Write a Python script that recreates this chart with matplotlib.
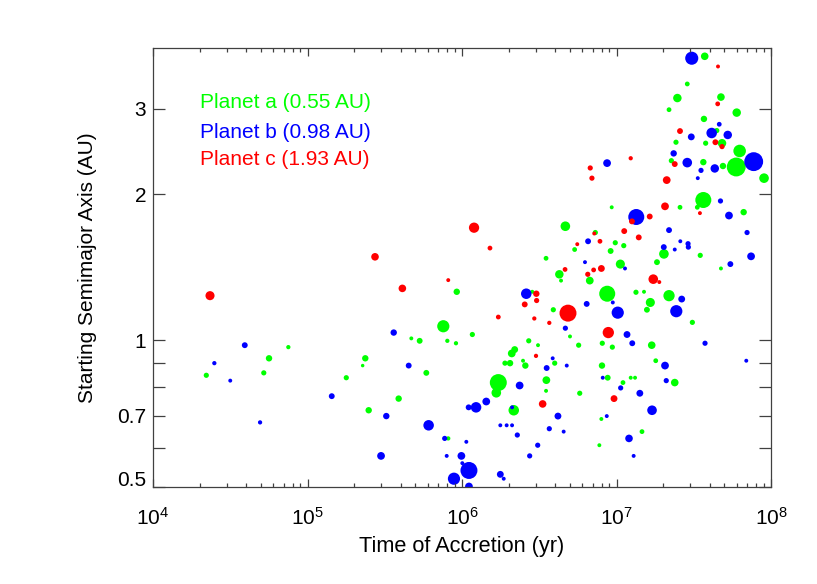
import numpy as np
import matplotlib
matplotlib.use("Agg")
import matplotlib.pyplot as plt
from matplotlib.ticker import LogLocator, FixedLocator, FixedFormatter, NullFormatter, LogFormatterSciNotation

plt.rcParams['font.family'] = ['Liberation Sans', 'DejaVu Sans']
plt.rcParams['mathtext.fontset'] = 'custom'
plt.rcParams['mathtext.rm'] = 'Liberation Sans'
plt.rcParams['mathtext.it'] = 'Liberation Sans:italic'
plt.rcParams['mathtext.bf'] = 'Liberation Sans:bold'

# ---------------- data (log10 time [yr], log10 starting a [AU], relative mass) ----------------
# Planet a (0.55 AU) - green
logt_a = [4.345, 4.717, 4.751, 4.876, 5.374, 5.357, 5.251, 5.396, 5.590, 5.769,
          5.726, 5.672, 5.879, 5.905, 5.961, 5.966, 6.067, 5.911, 6.669, 6.969,
          6.863, 6.729, 6.544, 6.992, 7.047, 6.962, 7.025, 6.630, 6.641, 6.827,
          6.455, 6.940, 7.126, 6.591, 6.699, 6.755, 6.908, 6.973, 6.432, 6.492,
          6.341, 6.322, 6.278, 6.311, 6.395, 6.410, 6.235, 6.222, 6.335, 6.546,
          6.544, 6.600, 6.906, 6.943, 7.042, 7.092, 7.120, 6.762, 6.902, 6.889,
          7.228, 7.254, 7.377, 7.165, 7.571, 7.458, 7.394, 7.676, 7.340, 7.778,
          7.566, 7.649, 7.385, 7.577, 7.683, 7.797, 7.355, 7.562, 7.689, 7.775,
          7.955, 7.562, 7.411, 7.523, 7.823, 7.307, 7.262, 7.542, 7.676, 7.178,
          7.340, 7.219, 7.197, 7.491]
loga_a = [-0.072, -0.067, -0.037, -0.014, -0.037, -0.052, -0.077, -0.144, -0.120, -0.067,
          -0.001, 0.004, 0.029, -0.001, -0.006, 0.100, 0.012, -0.202, 0.235, 0.274,
          0.222, 0.187, 0.169, 0.201, 0.195, 0.184, 0.157, 0.136, 0.123, 0.123,
          0.100, 0.096, 0.099, 0.063, 0.008, -0.010, -0.006, -0.014, -0.001, -0.010,
          -0.019, -0.027, -0.047, -0.047, -0.042, -0.052, -0.087, -0.108, -0.144, -0.082,
          -0.104, -0.047, -0.052, -0.077, -0.087, -0.077, -0.077, -0.109, -0.162, -0.216,
          -0.010, -0.042, -0.087, -0.188, 0.585, 0.528, 0.499, 0.501, 0.475, 0.469,
          0.456, 0.432, 0.408, 0.406, 0.406, 0.390, 0.370, 0.367, 0.359, 0.357,
          0.334, 0.289, 0.274, 0.274, 0.264, 0.178, 0.161, 0.175, 0.148, 0.100,
          0.092, 0.078, 0.063, 0.037]
mass_a = [4, 4, 8, 2, 8, 1, 4, 8, 8, 6,
          6, 1.5, 64, 2, 2, 8, 4, 2, 30, 1.5,
          4, 3, 3, 4, 4, 6, 25, 20, 1.5, 15,
          1.5, 150, 4, 4, 1.5, 4, 4, 4, 4, 1.5,
          10, 15, 4, 8, 1.5, 8, 180, 30, 40, 15,
          1.5, 4, 8, 6, 3, 1.5, 1.5, 4, 1.5, 1.5,
          14, 3, 14, 3, 14, 3, 20, 14, 3, 20,
          8, 4, 4, 4, 20, 70, 4, 8, 8, 250,
          30, 150, 3, 3, 8, 30, 6, 4, 1.5, 1.5,
          50, 25, 6, 4]

# Planet b (0.98 AU) - blue
logt_b = [4.397, 4.500, 4.594, 4.693, 5.157, 5.510, 5.558, 5.655, 5.784, 5.476,
          5.888, 5.901, 5.996, 6.028, 5.948, 6.045, 6.043, 6.091, 6.045, 6.002,
          6.157, 6.373, 6.324, 6.416, 7.128, 6.816, 6.796, 7.055, 6.807, 7.008,
          6.976, 6.669, 7.068, 7.102, 6.587, 6.548, 6.678, 6.621, 6.911, 7.027,
          7.151, 6.937, 6.248, 6.289, 6.324, 6.358, 6.565, 6.658, 6.490, 7.081,
          7.111, 6.438, 6.248, 6.270, 6.939, 7.487, 7.665, 7.616, 7.720, 7.484,
          7.370, 7.458, 7.547, 7.636, 7.888, 7.526, 7.673, 7.728, 7.845, 7.340,
          7.413, 7.377, 7.306, 7.463, 7.465, 7.871, 7.737, 7.422, 7.387, 7.573,
          7.314, 7.840, 7.322, 7.230]
loga_b = [-0.047, -0.083, -0.010, -0.169, -0.115, -0.156, 0.016, -0.052, -0.175, -0.238,
          -0.202, -0.238, -0.238, -0.209, -0.285, -0.268, -0.138, -0.138, -0.301, -0.253,
          -0.126, -0.093, -0.138, 0.096, 0.254, 0.204, 0.161, 0.148, 0.075, 0.057,
          0.078, 0.025, 0.012, -0.006, -0.037, -0.057, -0.052, -0.156, -0.077, -0.098,
          -0.109, -0.156, -0.175, -0.175, -0.175, -0.195, -0.182, -0.188, -0.216, -0.202,
          -0.238, -0.238, -0.276, -0.285, 0.365, 0.581, 0.445, 0.427, 0.423, 0.419,
          0.385, 0.366, 0.350, 0.354, 0.368, 0.334, 0.287, 0.257, 0.222, 0.227,
          0.204, 0.187, 0.192, 0.199, 0.192, 0.173, 0.157, 0.085, 0.060, -0.006,
          -0.052, -0.042, -0.083, -0.144]
mass_b = [2, 1.5, 6, 2, 6, 8, 8, 6, 40, 15,
          4, 1.5, 15, 1.5, 64, 180, 6, 40, 15, 1.5,
          15, 15, 1.5, 40, 150, 6, 1.5, 1.5, 6, 64,
          1.5, 4, 10, 6, 1.5, 6, 1.5, 10, 1.5, 4,
          10, 1.5, 1.5, 1.5, 1.5, 4, 4, 1.5, 4, 14,
          1.5, 4, 10, 1.5, 15, 80, 3, 40, 20, 10,
          8, 30, 4, 20, 250, 1.5, 4, 15, 4, 6,
          1.5, 1.5, 6, 4, 4, 15, 6, 10, 64, 4,
          15, 1.5, 4, 30]

# Planet c (1.93 AU) - red
logt_c = [4.369, 5.437, 5.614, 5.911, 6.078, 6.181, 6.235, 6.481, 6.406, 6.483,
          6.468, 6.686, 6.565, 6.479, 6.522, 6.947, 6.984, 6.667, 6.746, 6.814,
          6.852, 6.902, 6.893, 6.856, 7.050, 7.100, 7.144, 6.830, 6.841, 7.092,
          7.657, 7.655, 7.411, 7.640, 7.683, 7.377, 7.325, 7.314, 7.215, 7.540,
          7.238, 7.277]
loga_c = [0.092, 0.172, 0.107, 0.124, 0.232, 0.190, 0.048, 0.096, 0.074, 0.082,
          0.045, 0.056, 0.036, -0.032, -0.131, 0.016, -0.120, 0.146, 0.198, 0.136,
          0.145, 0.148, 0.204, 0.220, 0.225, 0.245, 0.212, 0.355, 0.334, 0.375,
          0.564, 0.487, 0.431, 0.408, 0.399, 0.363, 0.330, 0.276, 0.255, 0.262,
          0.126, 0.120]
mass_c = [25, 14, 14, 1.5, 37, 3, 3, 8, 6, 4,
          2, 180, 2, 2, 14, 50, 10, 3, 1.5, 4,
          3, 10, 3, 1.5, 6, 6, 6, 4, 4, 2,
          1.5, 3, 6, 6, 4, 6, 15, 15, 6, 1.5,
          30, 1.5]

labels = ['Planet a (0.55 AU)', 'Planet b (0.98 AU)', 'Planet c (1.93 AU)']
colors = ['#00ff00', '#0000ff', '#ff0000']

y_major = [0.5, 0.7, 1, 2, 3]
y_major_labels = ['0.5', '0.7', '1', '2', '3']
y_minor = [0.6, 0.8, 0.9]

# ---------------- figure ----------------
W, H = 817, 584
fig = plt.figure(figsize=(W / 100, H / 100), dpi=100)
ax = fig.add_axes([153 / W, (H - 486.5) / H, (771 - 153) / W, (486.5 - 48) / H])
ax.set_xscale('log')
ax.set_yscale('log')


def msize(m):
    d_px = 0.6 + 2.9 * np.asarray(m, dtype=float) ** (1.0 / 3.0)
    return (d_px * 0.72) ** 2


for lt, la, m, col in [(logt_a, loga_a, mass_a, colors[0]),
                       (logt_b, loga_b, mass_b, colors[1]),
                       (logt_c, loga_c, mass_c, colors[2])]:
    ax.scatter(10 ** np.array(lt), 10 ** np.array(la), s=msize(m), c=col,
               edgecolors='none', linewidths=0, clip_on=True)

ax.set_xlim(1e4, 1e8)
ax.set_ylim(0.5, 4.0)

ax.xaxis.set_major_locator(LogLocator(base=10, numticks=10))
ax.xaxis.set_major_formatter(LogFormatterSciNotation())
ax.xaxis.set_minor_locator(LogLocator(base=10, subs=np.arange(2, 10), numticks=20))
ax.xaxis.set_minor_formatter(NullFormatter())

ax.yaxis.set_major_locator(FixedLocator(y_major))
ax.yaxis.set_major_formatter(FixedFormatter(y_major_labels))
ax.yaxis.set_minor_locator(FixedLocator(y_minor))
ax.yaxis.set_minor_formatter(NullFormatter())

spine_col = '#404040'
for s in ax.spines.values():
    s.set_color(spine_col)
    s.set_linewidth(0.9)

ax.tick_params(axis='x', which='major', direction='in', length=5.8, width=0.9,
               top=True, bottom=True, color=spine_col, labelsize=15, pad=15)
ax.tick_params(axis='x', which='minor', direction='in', length=2.6, width=0.9,
               top=True, bottom=True, color=spine_col)
ax.tick_params(axis='y', which='both', direction='in', length=8.6, width=0.9,
               left=True, right=True, color=spine_col, labelsize=15, pad=5)

# the lowest y label sits on the bottom axis line, as in the original
ax.yaxis.get_major_ticks()[0].label1.set_verticalalignment('baseline')

ax.set_xlabel('Time of Accretion (yr)', fontsize=15.7, labelpad=5)
ax.set_ylabel('Starting Semimajor Axis (AU)', fontsize=15, labelpad=14)

ypos = [0.876, 0.807, 0.746]
for lab, col, yy in zip(labels, colors, ypos):
    ax.text(0.076, yy, lab, color=col, fontsize=15, transform=ax.transAxes,
            ha='left', va='center')

fig.savefig('out.png', dpi=100)
